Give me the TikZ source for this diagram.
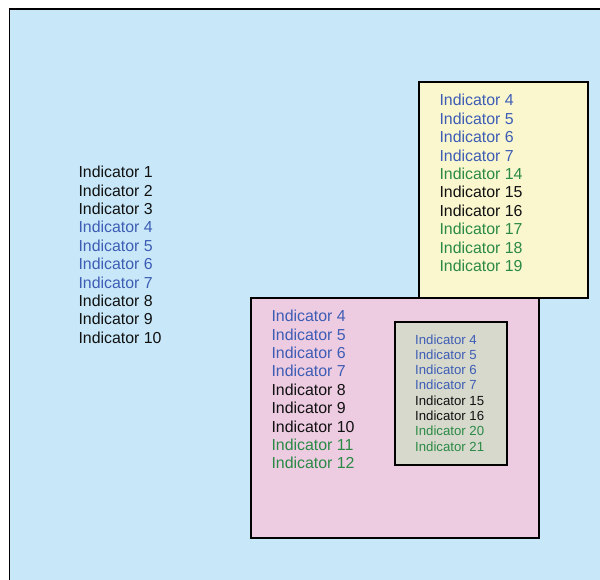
\documentclass[tikz,border=0pt]{standalone}
\usepackage{fontspec}
\setmainfont{Liberation Sans}
\definecolor{bgblue}{HTML}{C8E8F9}
\definecolor{boxyellow}{HTML}{FAF7CF}
\definecolor{boxpink}{HTML}{EDCBE1}
\definecolor{boxgray}{HTML}{D6D9CC}
\definecolor{indblue}{HTML}{3D5DB5}
\definecolor{indgreen}{HTML}{2A8A45}
\definecolor{indblack}{HTML}{111111}
\tikzset{
  frame/.style={draw=black, line width=1.6pt},
  big/.style={anchor=base west, inner sep=0pt, font=\fontsize{15.9pt}{18.4pt}\selectfont},
  small/.style={anchor=base west, inner sep=0pt, font=\fontsize{13.2pt}{15.3pt}\selectfont},
}
\begin{document}
\begin{tikzpicture}[x=1pt,y=-1pt]
\useasboundingbox (0,0) rectangle (600,580);
\fill[white] (0,0) rectangle (600,580);
% outer region
\path[fill=bgblue] (9.5,9) rectangle (605,585);
\draw[line width=1.6pt] (9.5,585) -- (9.5,9) -- (605,9);
% yellow box
\node[frame, fill=boxyellow, minimum width=169pt, minimum height=216pt, anchor=north west, inner sep=0pt] (yellow) at (418,81) {};
% pink box
\node[frame, fill=boxpink, minimum width=288pt, minimum height=240pt, anchor=north west, inner sep=0pt] (pink) at (250,297) {};
% gray box
\node[frame, fill=boxgray, minimum width=112pt, minimum height=143pt, anchor=north west, inner sep=0pt] (gray) at (394,321) {};
% left list
\foreach \t/\c [count=\i from 0] in {1/indblack,2/indblack,3/indblack,4/indblue,5/indblue,6/indblue,7/indblue,8/indblack,9/indblack,10/indblack}
  \node[big, text=\c] (L\i) at (78.3,177.7+18.4*\i) {Indicator \t};
% yellow list
\foreach \t/\c [count=\i from 0] in {4/indblue,5/indblue,6/indblue,7/indblue,14/indgreen,15/indblack,16/indblack,17/indgreen,18/indgreen,19/indgreen}
  \node[big, text=\c] (Y\i) at (439.3,106+18.4*\i) {Indicator \t};
% pink list
\foreach \t/\c [count=\i from 0] in {4/indblue,5/indblue,6/indblue,7/indblue,8/indblack,9/indblack,10/indblack,11/indgreen,12/indgreen}
  \node[big, text=\c] (P\i) at (271.3,321.7+18.4*\i) {Indicator \t};
% gray list
\foreach \t/\c [count=\i from 0] in {4/indblue,5/indblue,6/indblue,7/indblue,15/indblack,16/indblack,20/indgreen,21/indgreen}
  \node[small, text=\c] (G\i) at (415,344+15.33*\i) {Indicator \t};
\end{tikzpicture}
\end{document}
